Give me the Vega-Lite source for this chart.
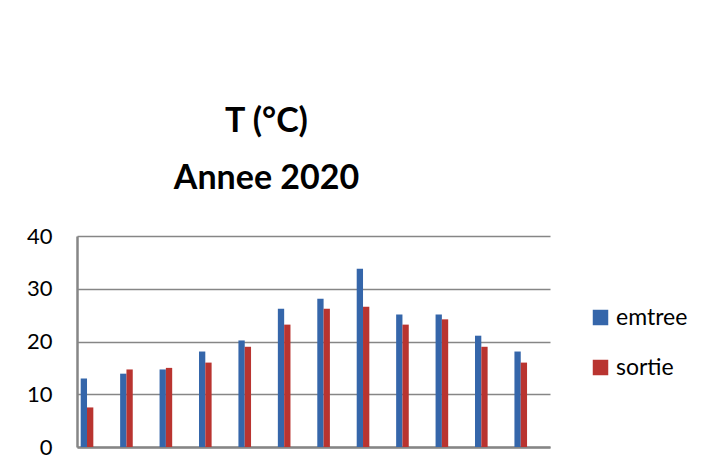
{
  "$schema": "https://vega.github.io/schema/vega-lite/v6.json",
  "autosize": {"type": "none"},
  "padding": {"left": 77, "top": 236, "right": 163, "bottom": 27},
  "width": 473,
  "height": 211,
  "background": "white",
  "title": {
    "text": ["T (°C)", "Annee 2020"],
    "font": "Lato",
    "fontSize": 34,
    "fontWeight": "bold",
    "color": "black",
    "lineHeight": 57,
    "anchor": "middle",
    "frame": "group",
    "dx": -47,
    "offset": 29
  },
  "data": {
    "values": [
      {"mois": "1", "serie": "emtree", "T": 13.0},
      {"mois": "1", "serie": "sortie", "T": 7.5},
      {"mois": "2", "serie": "emtree", "T": 13.9},
      {"mois": "2", "serie": "sortie", "T": 14.7},
      {"mois": "3", "serie": "emtree", "T": 14.7},
      {"mois": "3", "serie": "sortie", "T": 15.0},
      {"mois": "4", "serie": "emtree", "T": 18.1},
      {"mois": "4", "serie": "sortie", "T": 16.0},
      {"mois": "5", "serie": "emtree", "T": 20.2},
      {"mois": "5", "serie": "sortie", "T": 19.0},
      {"mois": "6", "serie": "emtree", "T": 26.2},
      {"mois": "6", "serie": "sortie", "T": 23.2},
      {"mois": "7", "serie": "emtree", "T": 28.1},
      {"mois": "7", "serie": "sortie", "T": 26.2},
      {"mois": "8", "serie": "emtree", "T": 33.8},
      {"mois": "8", "serie": "sortie", "T": 26.6},
      {"mois": "9", "serie": "emtree", "T": 25.1},
      {"mois": "9", "serie": "sortie", "T": 23.2},
      {"mois": "10", "serie": "emtree", "T": 25.1},
      {"mois": "10", "serie": "sortie", "T": 24.2},
      {"mois": "11", "serie": "emtree", "T": 21.1},
      {"mois": "11", "serie": "sortie", "T": 19.0},
      {"mois": "12", "serie": "emtree", "T": 18.1},
      {"mois": "12", "serie": "sortie", "T": 16.0}
    ]
  },
  "mark": {"type": "bar"},
  "encoding": {
    "x": {
      "field": "mois",
      "type": "ordinal",
      "sort": null,
      "scale": {"paddingInner": 0.68, "paddingOuter": 0.338, "align": 0.139},
      "axis": {
        "title": null,
        "labels": false,
        "ticks": false,
        "domainColor": "#868686",
        "domainWidth": 2.5
      }
    },
    "xOffset": {
      "field": "serie",
      "type": "nominal",
      "scale": {"paddingInner": 0, "paddingOuter": 0}
    },
    "y": {
      "field": "T",
      "type": "quantitative",
      "scale": {"domain": [0, 40], "nice": false},
      "axis": {
        "title": null,
        "values": [0, 10, 20, 30, 40],
        "ticks": false,
        "grid": true,
        "gridColor": "#868686",
        "gridWidth": 1.5,
        "gridOpacity": 1,
        "domainColor": "#868686",
        "domainWidth": 2.5,
        "labelFont": "Lato",
        "labelFontSize": 22,
        "labelColor": "black",
        "labelPadding": 25
      }
    },
    "color": {
      "field": "serie",
      "type": "nominal",
      "scale": {"domain": ["emtree", "sortie"], "range": ["#3566AA", "#B93430"]},
      "legend": {
        "title": null,
        "orient": "none",
        "legendX": 512,
        "legendY": 70,
        "symbolType": "square",
        "symbolSize": 240,
        "symbolStrokeWidth": 0,
        "symbolOpacity": 1,
        "labelFont": "Lato",
        "labelFontSize": 23,
        "labelColor": "black",
        "labelOffset": 4,
        "rowPadding": 26
      }
    }
  },
  "config": {
    "view": {"stroke": null}
  }
}
